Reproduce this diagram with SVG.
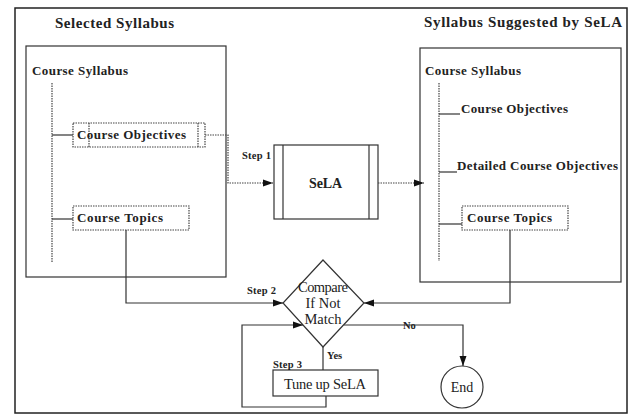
<svg xmlns="http://www.w3.org/2000/svg" width="631" height="416" viewBox="0 0 631 416">
<style>
text{font-family:"Liberation Serif","Times New Roman",serif;fill:#222}
.b{font-weight:bold}
.ln{fill:none;stroke:#333;stroke-width:1.2}
.dt{fill:none;stroke:#444;stroke-width:1.2;stroke-dasharray:1.5 1}
.bx{fill:#fff;stroke:#333;stroke-width:1.2}
.dbx{fill:#fff;stroke:#444;stroke-width:1.2;stroke-dasharray:1.5 1}
</style>
<defs>
<marker id="ah" viewBox="0 0 10 10" refX="10" refY="5" markerWidth="10" markerHeight="10" markerUnits="userSpaceOnUse" orient="auto">
<path d="M0,1.5 L10,5 L0,8.5 Z" fill="#111"/>
</marker>
</defs>
<rect x="0" y="0" width="631" height="416" fill="#fff"/>
<rect id="frame" x="15" y="8" width="612" height="405" fill="none" stroke="#222" stroke-width="1.5"/>

<g id="selected">
<text class="b" x="55" y="28" font-size="15" textLength="119" lengthAdjust="spacing">Selected Syllabus</text>
<rect class="bx" x="26" y="46" width="200" height="231"/>
<text class="b" x="32" y="75" font-size="13" textLength="96" lengthAdjust="spacing">Course Syllabus</text>
<line class="dt" x1="52" y1="83" x2="52" y2="262"/>
<line class="ln" x1="52" y1="135" x2="73" y2="135"/>
<line class="ln" x1="52" y1="219" x2="73" y2="219"/>
</g>
<g id="left-objectives">
<rect class="dbx" x="73" y="123" width="132" height="24"/>
<line class="dt" x1="89" y1="123" x2="89" y2="147"/>
<line class="dt" x1="198" y1="123" x2="198" y2="147"/>
<text class="b" x="77" y="139" font-size="13" textLength="109" lengthAdjust="spacing">Course Objectives</text>
</g>
<g id="left-topics">
<rect class="dbx" x="73" y="206" width="116" height="24"/>
<text class="b" x="77" y="222" font-size="13" textLength="86" lengthAdjust="spacing">Course Topics</text>
</g>

<g id="suggested">
<text class="b" x="424" y="27" font-size="15" textLength="198" lengthAdjust="spacing">Syllabus Suggested by SeLA</text>
<rect class="bx" x="420" y="48" width="201" height="234"/>
<text class="b" x="425" y="75" font-size="13" textLength="96" lengthAdjust="spacing">Course Syllabus</text>
<line class="dt" x1="439" y1="83" x2="439" y2="261"/>
<line class="ln" x1="439" y1="114" x2="460" y2="114"/>
<text class="b" x="461" y="113" font-size="13" textLength="107" lengthAdjust="spacing">Course Objectives</text>
<line class="ln" x1="439" y1="172" x2="457" y2="172"/>
<text class="b" x="457" y="170" font-size="13" textLength="161" lengthAdjust="spacing">Detailed Course Objectives</text>
<line class="ln" x1="439" y1="224" x2="462" y2="224"/>
</g>
<g id="right-topics">
<rect class="dbx" x="462" y="206" width="106" height="24"/>
<text class="b" x="467" y="222" font-size="13" textLength="85" lengthAdjust="spacing">Course Topics</text>
</g>

<g id="sela">
<rect class="bx" x="274" y="145" width="104" height="74"/>
<line class="ln" x1="283" y1="145" x2="283" y2="219"/>
<line class="ln" x1="369" y1="145" x2="369" y2="219"/>
<text class="b" x="309" y="188" font-size="14" textLength="33" lengthAdjust="spacing">SeLA</text>
</g>

<g id="compare">
<polygon class="bx" points="323,260 364,303 323,347 283,303"/>
<text x="298" y="292" font-size="14.5" textLength="50" lengthAdjust="spacing">Compare</text>
<text x="323" y="308" font-size="14.5" text-anchor="middle">If Not</text>
<text x="323" y="324" font-size="14.5" text-anchor="middle">Match</text>
</g>

<g id="tune">
<rect class="bx" x="273" y="370" width="105" height="26"/>
<text x="284" y="389" font-size="14.5" textLength="82" lengthAdjust="spacing">Tune up SeLA</text>
</g>

<g id="end">
<circle class="bx" cx="462" cy="387" r="21"/>
<text x="462" y="392" font-size="14" text-anchor="middle">End</text>
</g>

<g id="connectors">
<polyline class="dt" points="205,135 228,135 228,183 273,183" marker-end="url(#ah)"/>
<line class="dt" x1="378" y1="183" x2="424" y2="183" marker-end="url(#ah)"/>
<polyline class="ln" points="126,230 126,303 283,303" marker-end="url(#ah)"/>
<polyline class="ln" points="510,230 510,303 364,303" marker-end="url(#ah)"/>
<polyline class="ln" points="344,325 463,325 463,366" marker-end="url(#ah)"/>
<line class="ln" x1="323" y1="347" x2="323" y2="370"/>
<polyline class="ln" points="326,396 326,407 242,407 242,325 303,325" marker-end="url(#ah)"/>
</g>

<g id="labels">
<text class="b" x="242" y="159" font-size="10.5" textLength="29" lengthAdjust="spacing">Step 1</text>
<text class="b" x="247" y="294" font-size="10.5" textLength="29" lengthAdjust="spacing">Step 2</text>
<text class="b" x="273" y="368" font-size="10.5" textLength="29" lengthAdjust="spacing">Step 3</text>
<text class="b" x="327" y="359" font-size="10.5">Yes</text>
<text class="b" x="403" y="329" font-size="10.5">No</text>
</g>
</svg>
